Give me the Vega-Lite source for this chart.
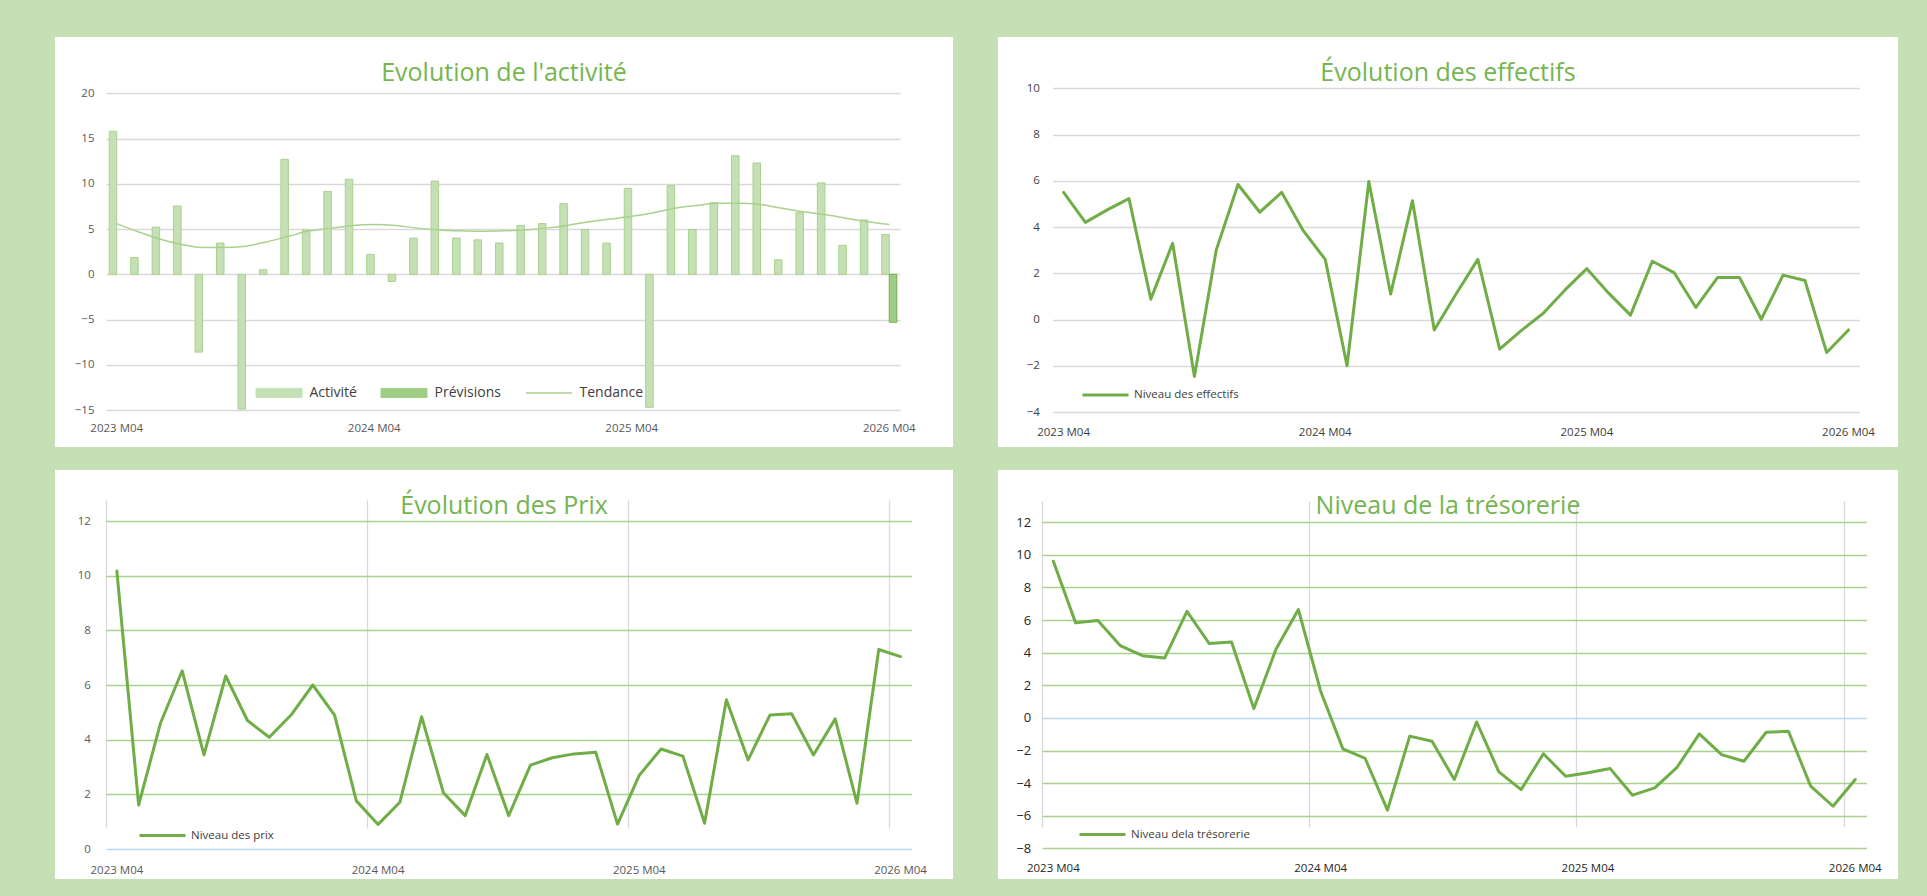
{
  "$schema": "https://vega.github.io/schema/vega-lite/v6.json",
  "background": "#c5e0b4",
  "padding": {"left": 55, "top": 37, "right": 29, "bottom": 17},
  "spacing": 23,
  "resolve": {"scale": {"color": "independent", "stroke": "independent"}, "legend": {"color": "independent", "stroke": "independent"}},
  "config": {
    "view": {"fill": "white", "stroke": null},
    "font": "Open Sans",
    "title": {"font": "Open Sans", "fontSize": 25, "fontWeight": "normal", "color": "#75b54f", "anchor": "middle", "baseline": "middle", "offset": -49},
    "axis": {"labelFont": "Open Sans", "labelFontSize": 11.5, "labelColor": "#595959", "domain": false, "ticks": false, "gridColor": "#d9d9d9", "gridWidth": 1.3},
    "axisX": {"labelAngle": 0},
    "legend": {"labelFont": "Open Sans", "labelColor": "#404040", "padding": 0}
  },
  "datasets": {
    "activite": [
      {"mois": "2023 M04", "serie": "Activité", "valeur": 15.8},
      {"mois": "2023 M05", "serie": "Activité", "valeur": 1.85},
      {"mois": "2023 M06", "serie": "Activité", "valeur": 5.2},
      {"mois": "2023 M07", "serie": "Activité", "valeur": 7.55},
      {"mois": "2023 M08", "serie": "Activité", "valeur": -8.6},
      {"mois": "2023 M09", "serie": "Activité", "valeur": 3.45},
      {"mois": "2023 M10", "serie": "Activité", "valeur": -14.9},
      {"mois": "2023 M11", "serie": "Activité", "valeur": 0.5},
      {"mois": "2023 M12", "serie": "Activité", "valeur": 12.7},
      {"mois": "2024 M01", "serie": "Activité", "valeur": 4.9},
      {"mois": "2024 M02", "serie": "Activité", "valeur": 9.15},
      {"mois": "2024 M03", "serie": "Activité", "valeur": 10.5},
      {"mois": "2024 M04", "serie": "Activité", "valeur": 2.2},
      {"mois": "2024 M05", "serie": "Activité", "valeur": -0.8},
      {"mois": "2024 M06", "serie": "Activité", "valeur": 4.0},
      {"mois": "2024 M07", "serie": "Activité", "valeur": 10.3},
      {"mois": "2024 M08", "serie": "Activité", "valeur": 4.0},
      {"mois": "2024 M09", "serie": "Activité", "valeur": 3.8},
      {"mois": "2024 M10", "serie": "Activité", "valeur": 3.45},
      {"mois": "2024 M11", "serie": "Activité", "valeur": 5.4},
      {"mois": "2024 M12", "serie": "Activité", "valeur": 5.6},
      {"mois": "2025 M01", "serie": "Activité", "valeur": 7.8},
      {"mois": "2025 M02", "serie": "Activité", "valeur": 4.95},
      {"mois": "2025 M03", "serie": "Activité", "valeur": 3.45},
      {"mois": "2025 M04", "serie": "Activité", "valeur": 9.5},
      {"mois": "2025 M05", "serie": "Activité", "valeur": -14.7},
      {"mois": "2025 M06", "serie": "Activité", "valeur": 9.8},
      {"mois": "2025 M07", "serie": "Activité", "valeur": 4.95},
      {"mois": "2025 M08", "serie": "Activité", "valeur": 7.9},
      {"mois": "2025 M09", "serie": "Activité", "valeur": 13.1},
      {"mois": "2025 M10", "serie": "Activité", "valeur": 12.3},
      {"mois": "2025 M11", "serie": "Activité", "valeur": 1.6},
      {"mois": "2025 M12", "serie": "Activité", "valeur": 6.8},
      {"mois": "2026 M01", "serie": "Activité", "valeur": 10.1},
      {"mois": "2026 M02", "serie": "Activité", "valeur": 3.2},
      {"mois": "2026 M03", "serie": "Activité", "valeur": 6.0},
      {"mois": "2026 M04", "serie": "Activité", "valeur": 4.4},
      {"mois": "2026 M04", "serie": "Prévisions", "valeur": -5.3},
      {"mois": "2023 M04", "serie": "Tendance", "valeur": 5.6},
      {"mois": "2023 M05", "serie": "Tendance", "valeur": 4.7},
      {"mois": "2023 M06", "serie": "Tendance", "valeur": 3.9},
      {"mois": "2023 M07", "serie": "Tendance", "valeur": 3.3},
      {"mois": "2023 M08", "serie": "Tendance", "valeur": 2.95},
      {"mois": "2023 M09", "serie": "Tendance", "valeur": 2.95},
      {"mois": "2023 M10", "serie": "Tendance", "valeur": 3.1},
      {"mois": "2023 M11", "serie": "Tendance", "valeur": 3.6},
      {"mois": "2023 M12", "serie": "Tendance", "valeur": 4.2},
      {"mois": "2024 M01", "serie": "Tendance", "valeur": 4.8},
      {"mois": "2024 M02", "serie": "Tendance", "valeur": 5.1},
      {"mois": "2024 M03", "serie": "Tendance", "valeur": 5.4},
      {"mois": "2024 M04", "serie": "Tendance", "valeur": 5.5},
      {"mois": "2024 M05", "serie": "Tendance", "valeur": 5.4},
      {"mois": "2024 M06", "serie": "Tendance", "valeur": 5.1},
      {"mois": "2024 M07", "serie": "Tendance", "valeur": 4.9},
      {"mois": "2024 M08", "serie": "Tendance", "valeur": 4.8},
      {"mois": "2024 M09", "serie": "Tendance", "valeur": 4.75},
      {"mois": "2024 M10", "serie": "Tendance", "valeur": 4.8},
      {"mois": "2024 M11", "serie": "Tendance", "valeur": 4.9},
      {"mois": "2024 M12", "serie": "Tendance", "valeur": 5.1},
      {"mois": "2025 M01", "serie": "Tendance", "valeur": 5.4},
      {"mois": "2025 M02", "serie": "Tendance", "valeur": 5.8},
      {"mois": "2025 M03", "serie": "Tendance", "valeur": 6.1},
      {"mois": "2025 M04", "serie": "Tendance", "valeur": 6.4},
      {"mois": "2025 M05", "serie": "Tendance", "valeur": 6.8},
      {"mois": "2025 M06", "serie": "Tendance", "valeur": 7.3},
      {"mois": "2025 M07", "serie": "Tendance", "valeur": 7.6},
      {"mois": "2025 M08", "serie": "Tendance", "valeur": 7.85},
      {"mois": "2025 M09", "serie": "Tendance", "valeur": 7.85},
      {"mois": "2025 M10", "serie": "Tendance", "valeur": 7.7},
      {"mois": "2025 M11", "serie": "Tendance", "valeur": 7.3},
      {"mois": "2025 M12", "serie": "Tendance", "valeur": 6.9},
      {"mois": "2026 M01", "serie": "Tendance", "valeur": 6.6},
      {"mois": "2026 M02", "serie": "Tendance", "valeur": 6.2},
      {"mois": "2026 M03", "serie": "Tendance", "valeur": 5.8},
      {"mois": "2026 M04", "serie": "Tendance", "valeur": 5.5}
    ],
    "effectifs": [
      {"mois": "2023 M04", "valeur": 5.5},
      {"mois": "2023 M05", "valeur": 4.2},
      {"mois": "2023 M06", "valeur": 4.74},
      {"mois": "2023 M07", "valeur": 5.23},
      {"mois": "2023 M08", "valeur": 0.88},
      {"mois": "2023 M09", "valeur": 3.3},
      {"mois": "2023 M10", "valeur": -2.46},
      {"mois": "2023 M11", "valeur": 3.0},
      {"mois": "2023 M12", "valeur": 5.84},
      {"mois": "2024 M01", "valeur": 4.64},
      {"mois": "2024 M02", "valeur": 5.5},
      {"mois": "2024 M03", "valeur": 3.83},
      {"mois": "2024 M04", "valeur": 2.6},
      {"mois": "2024 M05", "valeur": -2.0},
      {"mois": "2024 M06", "valeur": 5.97},
      {"mois": "2024 M07", "valeur": 1.1},
      {"mois": "2024 M08", "valeur": 5.14},
      {"mois": "2024 M09", "valeur": -0.45},
      {"mois": "2024 M10", "valeur": 1.1},
      {"mois": "2024 M11", "valeur": 2.6},
      {"mois": "2024 M12", "valeur": -1.28},
      {"mois": "2025 M01", "valeur": -0.47},
      {"mois": "2025 M02", "valeur": 0.27},
      {"mois": "2025 M03", "valeur": 1.28},
      {"mois": "2025 M04", "valeur": 2.2},
      {"mois": "2025 M05", "valeur": 1.14},
      {"mois": "2025 M06", "valeur": 0.19},
      {"mois": "2025 M07", "valeur": 2.52},
      {"mois": "2025 M08", "valeur": 2.03},
      {"mois": "2025 M09", "valeur": 0.52},
      {"mois": "2025 M10", "valeur": 1.82},
      {"mois": "2025 M11", "valeur": 1.82},
      {"mois": "2025 M12", "valeur": 0.01},
      {"mois": "2026 M01", "valeur": 1.92},
      {"mois": "2026 M02", "valeur": 1.69},
      {"mois": "2026 M03", "valeur": -1.43},
      {"mois": "2026 M04", "valeur": -0.45}
    ],
    "prix": [
      {"mois": "2023 M04", "valeur": 10.17},
      {"mois": "2023 M05", "valeur": 1.61},
      {"mois": "2023 M06", "valeur": 4.6},
      {"mois": "2023 M07", "valeur": 6.52},
      {"mois": "2023 M08", "valeur": 3.44},
      {"mois": "2023 M09", "valeur": 6.33},
      {"mois": "2023 M10", "valeur": 4.7},
      {"mois": "2023 M11", "valeur": 4.09},
      {"mois": "2023 M12", "valeur": 4.9},
      {"mois": "2024 M01", "valeur": 6.0},
      {"mois": "2024 M02", "valeur": 4.9},
      {"mois": "2024 M03", "valeur": 1.76},
      {"mois": "2024 M04", "valeur": 0.9},
      {"mois": "2024 M05", "valeur": 1.71},
      {"mois": "2024 M06", "valeur": 4.84},
      {"mois": "2024 M07", "valeur": 2.06},
      {"mois": "2024 M08", "valeur": 1.22},
      {"mois": "2024 M09", "valeur": 3.46},
      {"mois": "2024 M10", "valeur": 1.22},
      {"mois": "2024 M11", "valeur": 3.07},
      {"mois": "2024 M12", "valeur": 3.34},
      {"mois": "2025 M01", "valeur": 3.48},
      {"mois": "2025 M02", "valeur": 3.54},
      {"mois": "2025 M03", "valeur": 0.91},
      {"mois": "2025 M04", "valeur": 2.7},
      {"mois": "2025 M05", "valeur": 3.66},
      {"mois": "2025 M06", "valeur": 3.4},
      {"mois": "2025 M07", "valeur": 0.94},
      {"mois": "2025 M08", "valeur": 5.46},
      {"mois": "2025 M09", "valeur": 3.26},
      {"mois": "2025 M10", "valeur": 4.9},
      {"mois": "2025 M11", "valeur": 4.95},
      {"mois": "2025 M12", "valeur": 3.44},
      {"mois": "2026 M01", "valeur": 4.76},
      {"mois": "2026 M02", "valeur": 1.67},
      {"mois": "2026 M03", "valeur": 7.3},
      {"mois": "2026 M04", "valeur": 7.04}
    ],
    "tresorerie": [
      {"mois": "2023 M04", "valeur": 9.61},
      {"mois": "2023 M05", "valeur": 5.83},
      {"mois": "2023 M06", "valeur": 5.97},
      {"mois": "2023 M07", "valeur": 4.44},
      {"mois": "2023 M08", "valeur": 3.82},
      {"mois": "2023 M09", "valeur": 3.68},
      {"mois": "2023 M10", "valeur": 6.54},
      {"mois": "2023 M11", "valeur": 4.56},
      {"mois": "2023 M12", "valeur": 4.66},
      {"mois": "2024 M01", "valeur": 0.57},
      {"mois": "2024 M02", "valeur": 4.23},
      {"mois": "2024 M03", "valeur": 6.65},
      {"mois": "2024 M04", "valeur": 1.64},
      {"mois": "2024 M05", "valeur": -1.9},
      {"mois": "2024 M06", "valeur": -2.49},
      {"mois": "2024 M07", "valeur": -5.66},
      {"mois": "2024 M08", "valeur": -1.12},
      {"mois": "2024 M09", "valeur": -1.43},
      {"mois": "2024 M10", "valeur": -3.78},
      {"mois": "2024 M11", "valeur": -0.25},
      {"mois": "2024 M12", "valeur": -3.31},
      {"mois": "2025 M01", "valeur": -4.4},
      {"mois": "2025 M02", "valeur": -2.2},
      {"mois": "2025 M03", "valeur": -3.58},
      {"mois": "2025 M04", "valeur": -3.37},
      {"mois": "2025 M05", "valeur": -3.11},
      {"mois": "2025 M06", "valeur": -4.74},
      {"mois": "2025 M07", "valeur": -4.29},
      {"mois": "2025 M08", "valeur": -3.03},
      {"mois": "2025 M09", "valeur": -0.98},
      {"mois": "2025 M10", "valeur": -2.25},
      {"mois": "2025 M11", "valeur": -2.66},
      {"mois": "2025 M12", "valeur": -0.88},
      {"mois": "2026 M01", "valeur": -0.82},
      {"mois": "2026 M02", "valeur": -4.19},
      {"mois": "2026 M03", "valeur": -5.42},
      {"mois": "2026 M04", "valeur": -3.78}
    ]
  },
  "vconcat": [
    {
      "spacing": 45,
      "resolve": {"scale": {"color": "independent", "stroke": "independent"}, "legend": {"color": "independent", "stroke": "independent"}},
      "hconcat": [
        {
          "width": 898,
          "height": 410,
          "title": {"text": "Evolution de l'activité"},
          "data": {"name": "activite"},
          "layer": [
            {
              "transform": [{"filter": "datum.serie !== 'Tendance'"}],
              "mark": {"type": "bar", "strokeWidth": 1},
              "encoding": {
                "x": {"field": "mois", "type": "ordinal", "scale": {"type": "band", "range": [51, 845], "paddingInner": 0.3, "paddingOuter": 0.15}, "axis": {"values": ["2023 M04", "2024 M04", "2025 M04", "2026 M04"], "offset": -37, "labelPadding": 12, "grid": false, "title": null}},
                "xOffset": {"field": "serie", "scale": {"domain": ["Activité", "Prévisions"]}},
                "y": {"field": "valeur", "type": "quantitative", "scale": {"domain": [-15, 20], "range": [373, 56.3], "nice": false, "zero": false}, "axis": {"values": [-15, -10, -5, 0, 5, 10, 15, 20], "offset": -51, "labelPadding": 12, "grid": true, "title": null}},
                "color": {"field": "serie", "type": "nominal", "scale": {"domain": ["Activité", "Prévisions", "Tendance"], "range": ["#c5e0b4", "#9fcd86", "#a9d18e"]},
                  "legend": {"orient": "none", "legendX": 217, "legendY": 349, "direction": "horizontal", "title": null, "symbolType": "M-1,-0.2H1V0.2H-1Z", "symbolSize": 2116, "labelFontSize": 14, "labelOffset": 23.5, "columnPadding": 22, "symbolStrokeWidth": 1,
                    "encode": {"symbols": {"update": {
                      "shape": {"signal": "datum.value === 'Tendance' ? 'M-1,0H1' : 'M-1,-0.2H1V0.2H-1Z'"},
                      "fill": {"signal": "datum.value === 'Tendance' ? 'transparent' : (datum.value === 'Activité' ? '#c5e0b4' : '#9fcd86')"},
                      "stroke": {"signal": "datum.value === 'Prévisions' ? '#70ad47' : '#a9d18e'"},
                      "strokeWidth": {"signal": "datum.value === 'Tendance' ? 1.5 : 1"},
                      "opacity": {"value": 1}
                    }}}}},
                "stroke": {"field": "serie", "type": "nominal", "scale": {"domain": ["Activité", "Prévisions"], "range": ["#a9d18e", "#70ad47"]}, "legend": null}
              }
            },
            {
              "transform": [{"filter": "datum.serie === 'Tendance'"}],
              "mark": {"type": "line", "interpolate": "monotone", "strokeWidth": 1.5},
              "encoding": {
                "x": {"field": "mois", "type": "ordinal", "bandPosition": 0.5},
                "y": {"field": "valeur", "type": "quantitative"},
                "color": {"field": "serie", "type": "nominal"}
              }
            }
          ]
        },
        {
          "width": 900,
          "height": 410,
          "title": {"text": "Évolution des effectifs"},
          "data": {"name": "effectifs"},
          "mark": {"type": "line", "strokeWidth": 3, "strokeJoin": "round", "strokeCap": "round"},
          "encoding": {
            "x": {"field": "mois", "type": "ordinal", "bandPosition": 0.5, "scale": {"type": "band", "range": [54.7, 861.4], "paddingInner": 0, "paddingOuter": 0}, "axis": {"values": ["2023 M04", "2024 M04", "2025 M04", "2026 M04"], "offset": -35, "labelPadding": 14, "grid": false, "title": null, "labelColor": "#404040"}},
            "y": {"field": "valeur", "type": "quantitative", "scale": {"domain": [-4, 10], "range": [375, 51.3], "nice": false, "zero": false}, "axis": {"values": [-4, -2, 0, 2, 4, 6, 8, 10], "offset": -54.7, "labelPadding": 13.4, "grid": true, "title": null, "labelColor": "#404040"}},
            "color": {"datum": "Niveau des effectifs", "type": "nominal", "scale": {"domain": ["Niveau des effectifs"], "range": ["#70ad47"]}, "legend": {"orient": "none", "legendX": 83, "legendY": 333.5, "title": null, "symbolType": "stroke", "symbolSize": 2116, "symbolStrokeWidth": 3, "labelFontSize": 11.5, "labelOffset": 4}}
          }
        }
      ]
    },
    {
      "spacing": 45,
      "resolve": {"scale": {"color": "independent", "stroke": "independent"}, "legend": {"color": "independent", "stroke": "independent"}},
      "hconcat": [
        {
          "width": 898,
          "height": 409,
          "title": {"text": "Évolution des Prix"},
          "data": {"name": "prix"},
          "mark": {"type": "line", "strokeWidth": 3, "strokeJoin": "round", "strokeCap": "round"},
          "encoding": {
            "x": {"field": "mois", "type": "ordinal", "bandPosition": 0.5, "scale": {"type": "band", "range": [51, 856.4], "paddingInner": 0, "paddingOuter": 0}, "axis": {"values": ["2023 M04", "2024 M04", "2025 M04", "2026 M04"], "offset": -30, "labelPadding": 15, "grid": true, "bandPosition": 0, "gridColor": "#d9d9d9", "title": null}},
            "y": {"field": "valeur", "type": "quantitative", "scale": {"domain": [0, 12], "range": [379, 51], "nice": false, "zero": false}, "axis": {"values": [0, 2, 4, 6, 8, 10, 12], "offset": -51, "labelPadding": 15.6, "grid": true, "gridWidth": 1.5, "gridColor": {"condition": {"test": "datum.value === 0", "value": "#bdd7ee"}, "value": "#a9d18e"}, "title": null}},
            "color": {"datum": "Niveau des prix", "type": "nominal", "scale": {"domain": ["Niveau des prix"], "range": ["#70ad47"]}, "legend": {"orient": "none", "legendX": 83, "legendY": 341, "title": null, "symbolType": "stroke", "symbolSize": 2116, "symbolStrokeWidth": 3, "labelFontSize": 11.5, "labelOffset": 4}}
          }
        },
        {
          "width": 900,
          "height": 409,
          "title": {"text": "Niveau de la trésorerie"},
          "data": {"name": "tresorerie"},
          "mark": {"type": "line", "strokeWidth": 3, "strokeJoin": "round", "strokeCap": "round"},
          "encoding": {
            "x": {"field": "mois", "type": "ordinal", "bandPosition": 0.5, "scale": {"type": "band", "range": [44.2, 868.4], "paddingInner": 0, "paddingOuter": 0}, "axis": {"values": ["2023 M04", "2024 M04", "2025 M04", "2026 M04"], "offset": -30.7, "labelPadding": 14, "grid": true, "bandPosition": 0, "gridColor": "#d9d9d9", "title": null, "labelColor": "#262626"}},
            "y": {"field": "valeur", "type": "quantitative", "scale": {"domain": [-8, 12], "range": [378.3, 52.3], "nice": false, "zero": false}, "axis": {"values": [-8, -6, -4, -2, 0, 2, 4, 6, 8, 10, 12], "offset": -44.2, "labelPadding": 11.6, "labelFontSize": 13, "labelColor": "#262626", "grid": true, "gridWidth": 1.5, "gridColor": {"condition": {"test": "datum.value === 0", "value": "#bdd7ee"}, "value": "#a9d18e"}, "title": null}},
            "color": {"datum": "Niveau dela trésorerie", "type": "nominal", "scale": {"domain": ["Niveau dela trésorerie"], "range": ["#70ad47"]}, "legend": {"orient": "none", "legendX": 80, "legendY": 340, "title": null, "symbolType": "stroke", "symbolSize": 2116, "symbolStrokeWidth": 3, "labelFontSize": 11.5, "labelOffset": 4}}
          }
        }
      ]
    }
  ]
}
